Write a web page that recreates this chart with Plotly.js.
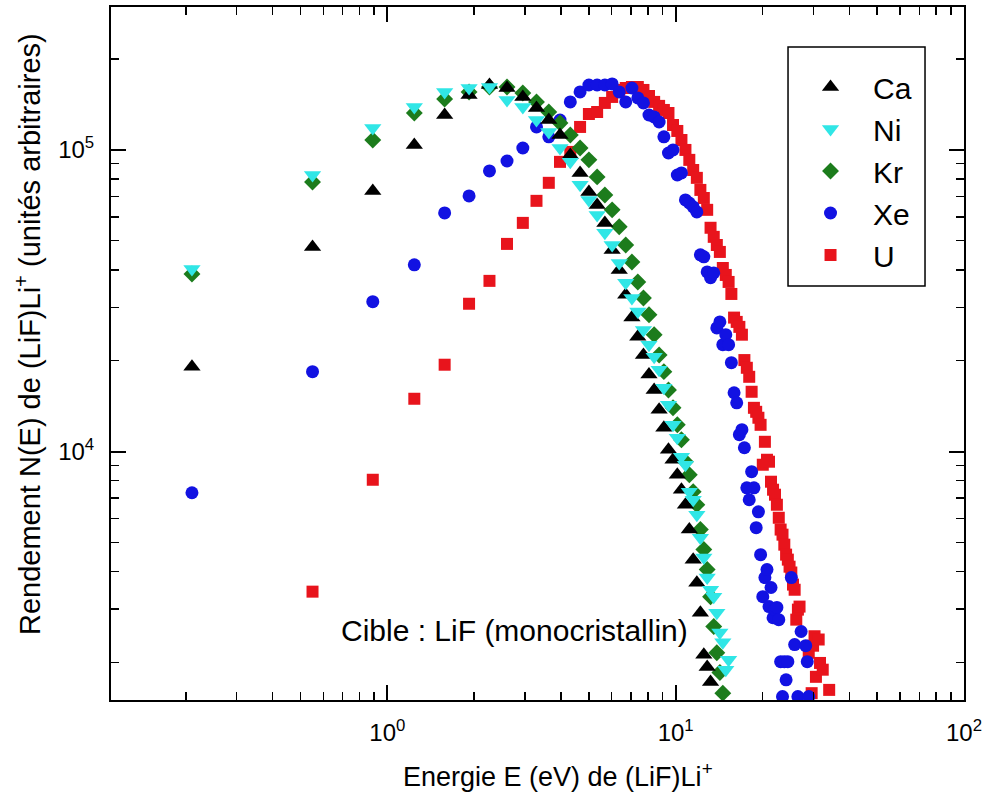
<!DOCTYPE html>
<html>
<head>
<meta charset="utf-8">
<script src="https://cdn.plot.ly/plotly-3.0.1.min.js"></script>
<style>html,body{margin:0;padding:0;background:#fff;}#chart{width:984px;height:793px;}</style>
</head>
<body>
<div id="chart"></div>
<script>
// Energy channels (eV) shared by all projectiles
const energy = [0.21, 0.55, 0.89, 1.24, 1.58, 1.92, 2.26, 2.60, 2.95, 3.29,
  3.63, 3.97, 4.31, 4.66, 5.00, 5.34, 5.68, 6.02, 6.37, 6.71,
  7.05, 7.39, 7.73, 8.08, 8.42, 8.76, 9.10, 9.44, 9.79, 10.13,
  10.47, 10.81, 11.15, 11.50, 11.84, 12.18, 12.52, 12.86, 13.21, 13.55,
  13.89, 14.23, 14.57, 14.92, 15.26, 15.60, 15.94, 16.28, 16.63, 16.97,
  17.31, 17.65, 17.99, 18.34, 18.68, 19.02, 19.36, 19.70, 20.05, 20.39,
  20.73, 21.07, 21.41, 21.76, 22.10, 22.44, 22.78, 23.12, 23.47, 23.81,
  24.15, 24.49, 24.83, 25.18, 25.52, 25.86, 26.20, 26.54, 26.89, 27.23,
  27.57, 27.91, 28.25, 28.60, 28.94, 29.28, 29.62, 29.96, 30.31, 30.65,
  30.99, 31.33, 31.67, 32.02, 32.36, 32.70, 33.04, 33.38, 33.73, 34.07];

const yieldCa = [1.91e4, 4.77e4, 7.31e4, 1.039e5, 1.306e5, 1.522e5, 1.642e5, 1.605e5, 1.499e5, 1.378e5,
  1.257e5, 1.121e5, 9.63e4, 8.39e4, 7.26e4, 6.57e4, 5.73e4, 4.66e4, 4.00e4, 3.31e4,
  2.78e4, 2.40e4, 2.09e4, 1.80e4, 1.60e4, 1.375e4, 1.199e4, 1.014e4, 9.39e3, 8.37e3,
  7.47e3, 6.66e3, 5.51e3, 4.38e3, 3.67e3, 2.92e3, 2.12e3, 1.93e3, 1.72e3];

const yieldNi = [4.03e4, 8.26e4, 1.183e5, 1.389e5, 1.557e5, 1.605e5, 1.617e5, 1.465e5, 1.389e5, 1.257e5,
  1.147e5, 1.015e5, 9.13e4, 7.66e4, 6.83e4, 6.09e4, 5.31e4, 4.84e4, 4.22e4, 3.63e4,
  3.23e4, 2.91e4, 2.53e4, 2.26e4, 2.06e4, 1.866e4, 1.627e4, 1.428e4, 1.226e4, 1.111e4,
  9.61e3, 9.04e3, 7.36e3, 6.92e3, 6.17e3, 5.18e3, 4.45e3, 3.82e3, 3.48e3, 3.30e3,
  2.92e3, 2.51e3, 2.33e3, 1.89e3, 2.04e3];

const yieldKr = [3.88e4, 7.83e4, 1.079e5, 1.326e5, 1.476e5, 1.557e5, 1.617e5, 1.617e5, 1.545e5, 1.443e5,
  1.336e5, 1.229e5, 1.121e5, 1.015e5, 9.27e4, 8.14e4, 7.09e4, 6.33e4, 5.56e4, 4.84e4,
  4.25e4, 3.65e4, 3.23e4, 2.84e4, 2.44e4, 2.09e4, 1.84e4, 1.60e4, 1.396e4, 1.226e4,
  1.094e4, 9.25e3, 8.37e3, 7.36e3, 6.66e3, 5.51e3, 4.73e3, 4.06e3, 3.30e3, 2.63e3,
  2.15e3, 1.85e3, 1.58e3];

const yieldXe = [7.30e3, 1.84e4, 3.14e4, 4.16e4, 6.18e4, 7.04e4, 8.52e4, 9.19e4, 1.015e5, 1.192e5,
  1.105e5, 1.257e5, 1.443e5, 1.557e5, 1.642e5, 1.642e5, 1.642e5, 1.655e5, 1.557e5, 1.443e5,
  1.605e5, 1.488e5, 1.432e5, 1.306e5, 1.287e5, 1.238e5, 1.105e5, 9.77e4, 1.0e5, 8.26e4,
  8.39e4, 6.83e4, 6.67e4, 6.47e4, 6.23e4, 4.49e4, 4.42e4, 3.94e4, 3.77e4, 3.91e4,
  2.57e4, 2.69e4, 2.26e4, 2.44e4, 2.26e4, 1.97e4, 1.566e4, 1.450e4, 1.137e4, 1.181e4,
  1.029e4, 7.58e3, 6.92e3, 8.57e3, 7.58e3, 5.59e3, 6.31e3, 4.55e3, 3.30e3, 3.82e3,
  4.06e3, 3.06e3, 3.54e3, 2.81e3, 2.99e3, 3.04e3, 2.77e3, 2.01e3, 1.54e3, 2.01e3,
  1.75e3, 2.01e3, null, 3.82e3, null, 2.29e3, null, 1.54e3, null, 2.53e3,
  null, null, 2.27e3, 2.01e3, 1.54e3];

const yieldU = [null, 3.43e3, 8.06e3, 1.496e4, 1.94e4, 3.09e4, 3.68e4, 4.88e4, 5.73e4, 6.78e4,
  7.78e4, 9.13e4, 9.85e4, 1.192e5, 1.316e5, 1.336e5, 1.432e5, 1.499e5, 1.581e5, 1.605e5,
  1.617e5, 1.617e5, 1.581e5, 1.510e5, 1.443e5, 1.400e5, 1.357e5, 1.326e5, 1.210e5, 1.156e5,
  1.079e5, 1.0e5, 9.27e4, 8.58e4, 8.08e4, 7.37e4, 6.93e4, 6.33e4, 5.52e4, 5.15e4,
  4.84e4, 4.59e4, 4.06e4, 3.85e4, 3.65e4, 3.33e4, 2.78e4, 2.69e4, 2.59e4, 2.44e4,
  2.01e4, 1.895e4, 1.769e4, 1.578e4, 1.396e4, 1.354e4, 1.294e4, 1.226e4, 9.04e3, 1.077e4,
  9.39e3, 9.25e3, 7.94e3, 7.47e3, 7.19e3, 6.66e3, 6.03e3, 5.51e3, 5.30e3, 4.91e3,
  4.55e3, 4.38e3, 4.15e3, 3.97e3, 3.62e3, 3.48e3, 2.77e3, 2.99e3, 3.06e3, null,
  null, null, null, null, 2.15e3, null, 1.58e3, 2.27e3, 2.44e3, 1.79e3,
  null, 2.38e3, 1.99e3, null, 1.89e3, null, null, null, null, 1.62e3];

const seriesNames = ['Ca', 'Ni', 'Kr', 'Xe', 'U'];

const xTickVals = [1, 10, 100];
const xTickText = ['10<sup>0</sup>', '10<sup>1</sup>', '10<sup>2</sup>'];
const xMinorVals = [0.2, 0.3, 0.4, 0.5, 0.6, 0.7, 0.8, 0.9, 2, 3, 4, 5, 6, 7, 8, 9, 20, 30, 40, 50, 60, 70, 80, 90];
const yTickVals = [1e4, 1e5];
const yTickText = ['10<sup>4</sup>', '10<sup>5</sup>'];
const yMinorVals = [2000, 3000, 4000, 5000, 6000, 7000, 8000, 9000, 2e4, 3e4, 4e4, 5e4, 6e4, 7e4, 8e4, 9e4, 2e5];

const xTitle = 'Energie E (eV) de (LiF)Li<sup>+</sup>';
const yTitle = 'Rendement N(E) de (LiF)Li<sup>+</sup> (unités arbitraires)';
const noteText = 'Cible : LiF (monocristallin)';

function mk(name, y, symbol, color, size, rank) {
  return {
    type: 'scatter', mode: 'markers', name: name,
    x: energy.slice(0, y.length), y: y,
    legendrank: rank,
    marker: {symbol: symbol, color: color, size: size, line: {width: 0}}
  };
}

const traces = [
  mk(seriesNames[4], yieldU, 'square', '#e8141c', 12, 5),
  mk(seriesNames[3], yieldXe, 'circle', '#1212e2', 13, 4),
  mk(seriesNames[2], yieldKr, 'diamond', '#1c7c1c', 13, 3),
  mk(seriesNames[0], yieldCa, 'triangle-up', '#000000', 15, 1),
  mk(seriesNames[1], yieldNi, 'triangle-down', '#30e6e6', 15, 2)
];

const axisCommon = {
  type: 'log', showgrid: false, zeroline: false,
  showline: true, linecolor: '#000', linewidth: 2, mirror: 'allticks',
  ticks: 'inside', ticklen: 15, tickwidth: 2, tickcolor: '#000',
  tickmode: 'array', tickfont: {size: 24, color: '#000'}
};

const layout = {
  width: 984, height: 793,
  margin: {l: 111, r: 20, t: 7, b: 93},
  paper_bgcolor: '#fff', plot_bgcolor: '#fff',
  font: {family: 'Liberation Sans, Arial, sans-serif', color: '#000'},
  showlegend: true,
  legend: {
    x: 0.7937, y: 0.9221, xanchor: 'left', yanchor: 'top',
    borderwidth: 0, bgcolor: 'rgba(0,0,0,0)',
    font: {size: 30, color: '#000'}, itemwidth: 75, traceorder: 'normal'
  },
  shapes: [{
    type: 'rect', xref: 'paper', yref: 'paper',
    x0: 0.7937, x1: 0.9543, y0: 0.5974, y1: 0.9423,
    line: {color: '#000', width: 1.5}, fillcolor: '#fff', layer: 'below'
  }],
  xaxis: Object.assign({}, axisCommon, {
    range: [-0.9586, 2],
    tickvals: xTickVals, ticktext: xTickText, ticklabelstandoff: 10,
    minor: {ticks: 'inside', ticklen: 8, tickwidth: 1.5, tickcolor: '#000', tickmode: 'array', tickvals: xMinorVals}
  }),
  yaxis: Object.assign({}, axisCommon, {
    range: [3.176, 5.474],
    tickvals: yTickVals, ticktext: yTickText, ticklabelstandoff: 10,
    minor: {ticks: 'inside', ticklen: 8, tickwidth: 1.5, tickcolor: '#000', tickmode: 'array', tickvals: yMinorVals}
  }),
  annotations: [
    {xref: 'paper', yref: 'paper', x: 0.4736, y: 0.0996, xanchor: 'center', yanchor: 'middle',
     text: noteText, showarrow: false, font: {size: 30, color: '#000'}},
    {xref: 'paper', yref: 'paper', x: 0.524, y: -0.1082, xanchor: 'center', yanchor: 'middle',
     text: xTitle, showarrow: false, font: {size: 27, color: '#000'}},
    {xref: 'paper', yref: 'paper', x: -0.0973, y: 0.5281, xanchor: 'center', yanchor: 'middle',
     text: yTitle, textangle: -90, showarrow: false, font: {size: 29, color: '#000'}}
  ]
};

Plotly.newPlot('chart', traces, layout, {displayModeBar: false, staticPlot: true});
</script>
</body>
</html>
